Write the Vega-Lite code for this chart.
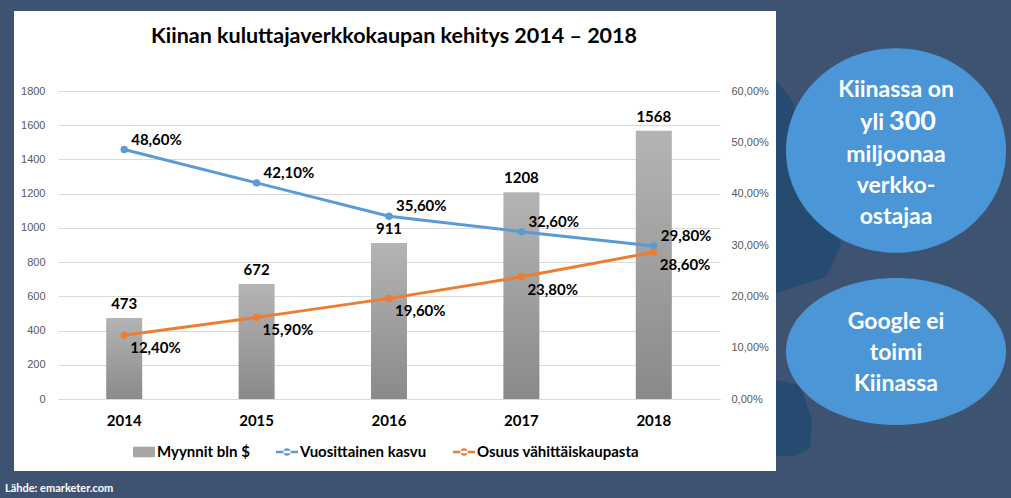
{
  "$schema": "https://vega.github.io/schema/vega-lite/v6.json",
  "autosize": {"type": "none"},
  "padding": {"left": 58, "top": 91, "right": 291, "bottom": 99},
  "width": 662,
  "height": 308,
  "background": "#ffffff",
  "config": {
    "locale": {"number": {"decimal": ",", "thousands": " ", "grouping": [3], "currency": ["", " €"]}},
    "view": {"stroke": null},
    "font": "Lato"
  },
  "title": {
    "text": "Kiinan kuluttajaverkkokaupan kehitys 2014 – 2018",
    "frame": "group",
    "anchor": "middle",
    "offset": -64,
    "baseline": "alphabetic",
    "dx": 5,
    "font": "Lato",
    "fontSize": 21.5,
    "fontWeight": "bold",
    "color": "#000000"
  },
  "data": {
    "values": [
      {"year": "2014", "sales": 473, "growth": 0.486, "share": 0.124},
      {"year": "2015", "sales": 672, "growth": 0.421, "share": 0.159},
      {"year": "2016", "sales": 911, "growth": 0.356, "share": 0.196},
      {"year": "2017", "sales": 1208, "growth": 0.326, "share": 0.238},
      {"year": "2018", "sales": 1568, "growth": 0.298, "share": 0.286}
    ]
  },
  "layer": [
    {
      "encoding": {
        "x": {
          "field": "year", "type": "ordinal",
          "scale": {"paddingInner": 0, "paddingOuter": 0},
          "axis": {"orient": "bottom", "title": null, "domain": true, "domainColor": "#d9d9d9", "domainWidth": 1, "ticks": false, "grid": false, "labelAngle": 0, "labelPadding": 14, "labelFont": "Lato", "labelFontSize": 15, "labelFontWeight": "bold", "labelColor": "#000000"}
        },
        "y": {
          "field": "sales", "type": "quantitative",
          "scale": {"domain": [0, 1800], "nice": false},
          "axis": {"orient": "left", "title": null, "values": [0, 200, 400, 600, 800, 1000, 1200, 1400, 1600, 1800], "format": "d", "grid": true, "gridColor": "#d9d9d9", "gridWidth": 1, "domain": false, "ticks": false, "labelPadding": 13, "labelFont": "Liberation Sans", "labelFontSize": 11, "labelColor": "#595959"}
        }
      },
      "layer": [
        {
          "mark": {
            "type": "bar",
            "width": {"band": 0.272},
            "color": {"gradient": "linear", "x1": 0, "y1": 0, "x2": 0, "y2": 1, "stops": [{"offset": 0, "color": "#b4b4b4"}, {"offset": 1, "color": "#8a8a8a"}]}
          }
        },
        {
          "mark": {"type": "text", "baseline": "middle", "dy": -14, "font": "Lato", "fontSize": 15, "fontWeight": "bold", "color": "#000000"},
          "encoding": {"text": {"field": "sales", "type": "quantitative", "format": "d"}}
        },
        {
          "mark": {"type": "point", "opacity": 0, "filled": true},
          "encoding": {
            "color": {
              "datum": "Myynnit bln $",
              "scale": {"domain": ["Myynnit bln $", "Vuosittainen kasvu", "Osuus vähittäiskaupasta"], "range": ["#a6a6a6", "#5b9bd5", "#ed7d31"]},
              "legend": {
                "orient": "none", "legendX": 75, "legendY": 350, "direction": "horizontal", "title": null, "padding": 0,
                "symbolSize": 484, "labelFont": "Lato", "labelFontSize": 15, "labelFontWeight": "bold", "labelColor": "#000000",
                "labelOffset": 2, "columnPadding": 26, "labelLimit": 300,
                "encode": {
                  "symbols": {
                    "update": {
                      "shape": {"signal": "datum.value === 'Myynnit bln $' ? 'M-1,-0.48H1V0.48H-1Z' : 'M-1,-0.12H1V0.12H-1Z M-0.34,0A0.34,0.34,0,1,0,0.34,0A0.34,0.34,0,1,0,-0.34,0Z'"},
                      "fill": {"signal": "datum.value === 'Myynnit bln $' ? '#a0a0a0' : datum.value === 'Vuosittainen kasvu' ? '#5b9bd5' : '#ed7d31'"},
                      "opacity": {"value": 1},
                      "strokeWidth": {"value": 0}
                    }
                  }
                }
              }
            }
          }
        }
      ]
    },
    {
      "encoding": {
        "x": {"field": "year", "type": "ordinal"}
      },
      "layer": [
        {
          "mark": {"type": "line", "strokeWidth": 3, "point": {"filled": true, "size": 55}},
          "encoding": {
            "y": {
              "field": "growth", "type": "quantitative",
              "scale": {"domain": [0, 0.6], "nice": false},
              "axis": {"orient": "right", "title": null, "values": [0, 0.1, 0.2, 0.3, 0.4, 0.5, 0.6], "format": ".2%", "grid": false, "domain": false, "ticks": false, "labelPadding": 11, "labelFont": "Liberation Sans", "labelFontSize": 11, "labelColor": "#595959"}
            },
            "color": {"datum": "Vuosittainen kasvu"}
          }
        },
        {
          "mark": {"type": "text", "align": "left", "baseline": "middle", "dx": 7, "dy": -10, "font": "Lato", "fontSize": 15, "fontWeight": "bold", "color": "#000000"},
          "encoding": {
            "y": {"field": "growth", "type": "quantitative"},
            "text": {"field": "growth", "type": "quantitative", "format": ".2%"}
          }
        },
        {
          "mark": {"type": "line", "strokeWidth": 3, "point": {"filled": true, "size": 55}},
          "encoding": {
            "y": {"field": "share", "type": "quantitative"},
            "color": {"datum": "Osuus vähittäiskaupasta"}
          }
        },
        {
          "mark": {"type": "text", "align": "left", "baseline": "middle", "dx": 6, "dy": 13, "font": "Lato", "fontSize": 15, "fontWeight": "bold", "color": "#000000"},
          "encoding": {
            "y": {"field": "share", "type": "quantitative"},
            "text": {"field": "share", "type": "quantitative", "format": ".2%"}
          }
        }
      ]
    },
    {"data": {"values": [{}]}, "mark": {"type": "rect", "x": -58, "x2": 953, "y": -91, "y2": -80, "color": "#3e5372"}, "encoding": {}},
    {"data": {"values": [{}]}, "mark": {"type": "rect", "x": -58, "x2": -44, "y": -91, "y2": 407, "color": "#3e5372"}, "encoding": {}},
    {"data": {"values": [{}]}, "mark": {"type": "rect", "x": -58, "x2": 953, "y": 380, "y2": 407, "color": "#3e5372"}, "encoding": {}},
    {"data": {"values": [{}]}, "mark": {"type": "rect", "x": 718, "x2": 953, "y": -91, "y2": 407, "color": "#3e5372"}, "encoding": {}},
    {"data": {"values": [{}]}, "mark": {"type": "point", "shape": "M-0.24,-1.9L-0.08,-1.7L0.41,-0.25L0.26,0.07L-0.24,0.23Z M-0.24,1.1L0,1.15L0.12,1.5L0.1,1.78L-0.05,1.86L-0.24,1.86Z", "size": 40000, "x": 742, "y": 179, "filled": true, "color": "#264b70", "opacity": 1, "strokeWidth": 0}, "encoding": {}},
    {"data": {"values": [{}]}, "mark": {"type": "point", "shape": "M-1,0A1,0.93,0,1,1,1,0A1,0.93,0,1,1,-1,0Z", "size": 48400, "x": 838, "y": 59.5, "filled": true, "color": "#4b96d7", "opacity": 1, "strokeWidth": 0}, "encoding": {}},
    {"data": {"values": [{}]}, "mark": {"type": "point", "shape": "M-1,0A1,0.668,0,1,1,1,0A1,0.668,0,1,1,-1,0Z", "size": 48400, "x": 838, "y": 260.5, "filled": true, "color": "#4b96d7", "opacity": 1, "strokeWidth": 0}, "encoding": {}},
    {"data": {"values": [{}]}, "mark": {"type": "text", "text": "Kiinassa on", "x": 838, "y": 6, "align": "center", "baseline": "alphabetic", "font": "Lato", "fontSize": 23, "fontWeight": "bold", "color": "#ffffff"}, "encoding": {}},
    {"data": {"values": [{}]}, "mark": {"type": "text", "text": "yli", "x": 826, "y": 39, "align": "right", "baseline": "alphabetic", "font": "Lato", "fontSize": 23, "fontWeight": "bold", "color": "#ffffff"}, "encoding": {}},
    {"data": {"values": [{}]}, "mark": {"type": "text", "text": "300", "x": 831, "y": 39, "align": "left", "baseline": "alphabetic", "font": "Lato", "fontSize": 27, "fontWeight": "bold", "color": "#ffffff"}, "encoding": {}},
    {"data": {"values": [{}]}, "mark": {"type": "text", "text": ["miljoonaa", "verkko-", "ostajaa"], "lineHeight": 31, "x": 838, "y": 71, "align": "center", "baseline": "alphabetic", "font": "Lato", "fontSize": 23, "fontWeight": "bold", "color": "#ffffff"}, "encoding": {}},
    {"data": {"values": [{}]}, "mark": {"type": "text", "text": ["Google ei", "toimi", "Kiinassa"], "lineHeight": 31, "x": 838, "y": 238, "align": "center", "baseline": "alphabetic", "font": "Lato", "fontSize": 23, "fontWeight": "bold", "color": "#ffffff"}, "encoding": {}},
    {"data": {"values": [{}]}, "mark": {"type": "text", "text": "Lähde: emarketer.com", "x": -53, "y": 398, "align": "left", "baseline": "middle", "font": "Lato", "fontSize": 11, "fontWeight": "bold", "color": "#ffffff"}, "encoding": {}}
  ],
  "resolve": {"scale": {"y": "independent"}}
}
